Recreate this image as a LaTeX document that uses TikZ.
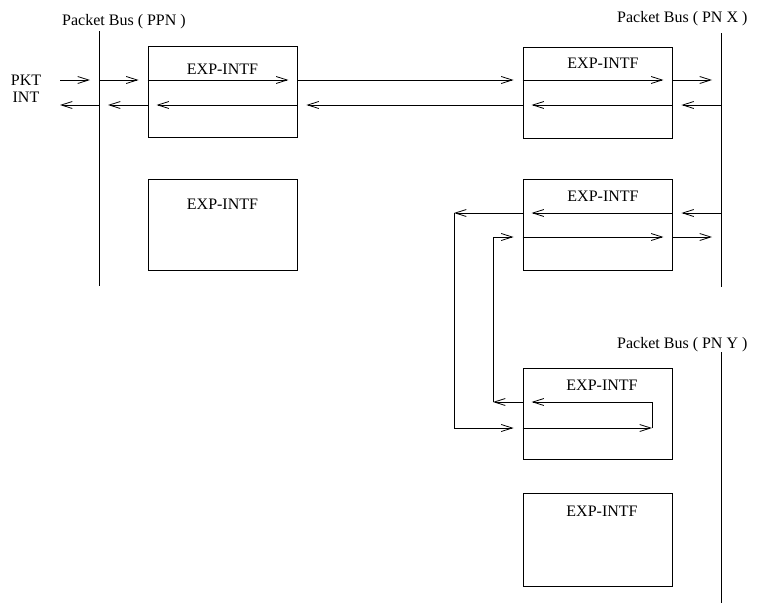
\documentclass[tikz,border=0pt]{standalone}
\usepackage{fontspec}
\setmainfont{Liberation Serif}
\usetikzlibrary{arrows.meta, positioning, calc}

\begin{document}
\begin{tikzpicture}[x=1pt,y=-1pt,
    bus/.style={line width=0.9pt},
    intfbox/.style={draw, line width=0.9pt, minimum width=149pt, minimum height=91pt, inner sep=0pt},
    intftext/.style={font=\fontsize{16}{17}\selectfont, inner sep=0pt},
    buslabel/.style={font=\fontsize{16}{17}\selectfont, inner sep=0pt, anchor=base west},
    flow/.style={line width=0.8pt, -{Straight Barb[length=11pt,width=7pt]}, shorten >=9pt},
    flowto/.style={line width=0.8pt, -{Straight Barb[length=11pt,width=7pt]}}]
  \path[use as bounding box] (0,0) rectangle (757,605);

  % Packet buses
  \coordinate (ppnT) at (99,31);
  \coordinate (ppnE) at (99,286);
  \draw[bus] (ppnT) -- (ppnE);
  \node[buslabel] (ppnlbl) at (62,25) {Packet Bus ( PPN )};

  \coordinate (pnxT) at (721,33);
  \coordinate (pnxE) at (721,287);
  \draw[bus] (pnxT) -- (pnxE);
  \node[buslabel] (pnxlbl) at (617,23) {Packet Bus ( PN X )};

  \coordinate (pnyT) at (721,352);
  \coordinate (pnyE) at (721,603);
  \draw[bus] (pnyT) -- (pnyE);
  \node[buslabel] (pnylbl) at (617,348) {Packet Bus ( PN Y )};

  % EXP-INTF boxes
  \node[intfbox] (ppnA) at (222.5,92) {};
  \node[intftext] (ppnAtxt) at (222.5,69) {EXP-INTF};
  \node[intfbox] (ppnB) at (222.5,224.5) {};
  \node[intftext] (ppnBtxt) at (222.5,204) {EXP-INTF};

  \node[intfbox] (pnxA) at (597.5,92.5) {};
  \node[intftext] (pnxAtxt) at (603,63) {EXP-INTF};
  \node[intfbox] (pnxB) at (597.5,224.5) {};
  \node[intftext] (pnxBtxt) at (603,196) {EXP-INTF};

  \node[intfbox] (pnyA) at (597.5,414) {};
  \node[intftext] (pnyAtxt) at (602,385) {EXP-INTF};
  \node[intfbox, minimum height=93pt] (pnyB) at (597.5,539.5) {};
  \node[intftext] (pnyBtxt) at (602,511) {EXP-INTF};

  \node[intftext, align=center] (pkt) at (26,88.5) {PKT\\INT};

  % rows and turning points
  \coordinate (rowA) at (0,80);
  \coordinate (rowB) at (0,105);
  \coordinate (rowC) at (0,213);
  \coordinate (rowD) at (0,237);
  \coordinate (rowE) at (0,402);
  \coordinate (rowF) at (0,428);
  \coordinate (outerx) at (454,0);
  \coordinate (innerx) at (493,0);
  \coordinate (yturn) at (652,0);
  \coordinate (pktin) at (60,80);
  \coordinate (pktout) at (60,105);

  % PPN -> PN X
  \draw[flow] (pktin) -- (ppnT |- rowA);
  \draw[flow] (ppnT |- rowA) -- (ppnA.west |- rowA);
  \draw[flow] (ppnA.west |- rowA) -- (ppnA.east |- rowA);
  \draw[flow] (ppnA.east |- rowA) -- (pnxA.west |- rowA);
  \draw[flow] (pnxA.west |- rowA) -- (pnxA.east |- rowA);
  \draw[flow] (pnxA.east |- rowA) -- (pnxT |- rowA);

  % PN X -> PPN
  \draw[flow] (pnxT |- rowB) -- (pnxA.east |- rowB);
  \draw[flow] (pnxA.east |- rowB) -- (pnxA.west |- rowB);
  \draw[flow] (pnxA.west |- rowB) -- (ppnA.east |- rowB);
  \draw[flow] (ppnA.east |- rowB) -- (ppnA.west |- rowB);
  \draw[flow] (ppnA.west |- rowB) -- (ppnT |- rowB);
  \draw[flowto] (ppnT |- rowB) -- (pktout);

  % PN X <-> PN Y loops
  \draw[flow] (pnxT |- rowC) -- (pnxB.east |- rowC);
  \draw[flow] (pnxB.east |- rowC) -- (pnxB.west |- rowC);
  \draw[flowto] (pnxB.west |- rowC) -- (outerx |- rowC);
  \draw[flow] (outerx |- rowC) |- (pnyA.west |- rowF);
  \draw[flowto] (pnyA.west |- rowF) -- (yturn |- rowF);
  \draw[flow] (yturn |- rowF) |- (pnyA.west |- rowE);
  \draw[flowto] (pnyA.west |- rowE) -- (innerx |- rowE);
  \draw[flow] (innerx |- rowE) |- (pnxB.west |- rowD);
  \draw[flow] (pnxB.west |- rowD) -- (pnxB.east |- rowD);
  \draw[flow] (pnxB.east |- rowD) -- (pnxT |- rowD);
\end{tikzpicture}
\end{document}
